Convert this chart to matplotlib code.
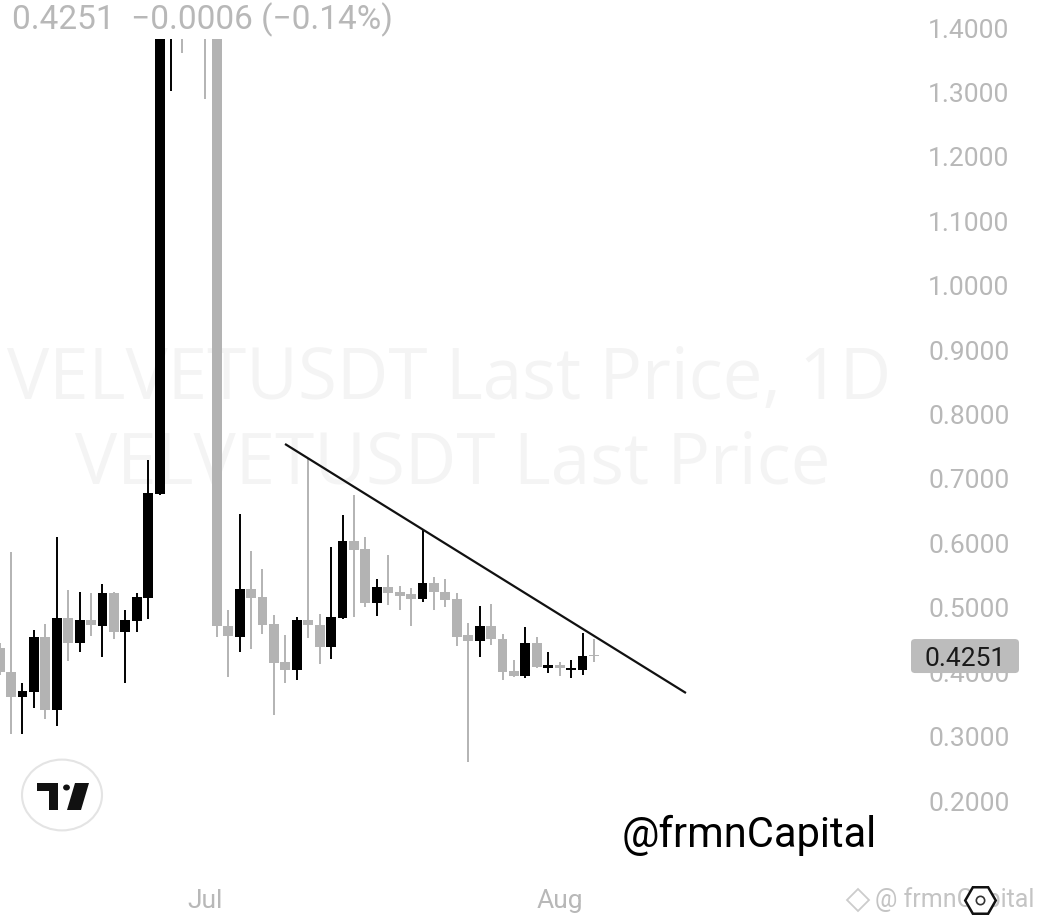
import pandas as pd
import matplotlib
matplotlib.use("Agg")
import matplotlib.pyplot as plt
import matplotlib.dates as mdates
from matplotlib.patches import Rectangle, FancyBboxPatch, Circle, Polygon
from matplotlib.lines import Line2D

plt.rcParams['font.family'] = ['Roboto', 'DejaVu Sans']

W, H = 1044, 924

# daily candles, VELVETUSDT, starting Jun 13
start_date = "2025-06-13"
opens = [0.438, 0.401, 0.362, 0.370, 0.454, 0.341, 0.484, 0.445, 0.481, 0.472,
         0.523, 0.462, 0.480, 0.515, 0.676, 1.750, 2.000, 1.800, 1.600, 1.500,
         0.471, 0.455, 0.529, 0.516, 0.475, 0.416, 0.403, 0.481, 0.474, 0.439,
         0.484, 0.603, 0.591, 0.507, 0.533, 0.524, 0.521, 0.513, 0.539, 0.525,
         0.513, 0.457, 0.449, 0.472, 0.452, 0.402, 0.394, 0.446, 0.407, 0.411,
         0.403, 0.403, 0.4262]
highs = [0.445, 0.587, 0.383, 0.466, 0.475, 0.610, 0.528, 0.525, 0.523, 0.537,
         0.525, 0.496, 0.523, 0.729, 2.300, 2.500, 2.200, 1.900, 1.700, 1.550,
         0.496, 0.646, 0.588, 0.560, 0.489, 0.458, 0.486, 0.732, 0.490, 0.595,
         0.644, 0.675, 0.610, 0.544, 0.582, 0.534, 0.530, 0.621, 0.548, 0.545,
         0.523, 0.476, 0.503, 0.506, 0.459, 0.419, 0.470, 0.455, 0.432, 0.416,
         0.419, 0.461, 0.451]
lows = [0.395, 0.304, 0.304, 0.344, 0.328, 0.317, 0.417, 0.432, 0.456, 0.424,
        0.451, 0.383, 0.462, 0.482, 0.675, 1.303, 1.361, 1.450, 1.290, 0.454,
        0.392, 0.431, 0.436, 0.459, 0.334, 0.384, 0.388, 0.453, 0.413, 0.421,
        0.482, 0.486, 0.501, 0.487, 0.505, 0.496, 0.471, 0.509, 0.497, 0.502,
        0.440, 0.260, 0.424, 0.442, 0.388, 0.393, 0.391, 0.406, 0.399, 0.394,
        0.391, 0.396, 0.416]
closes = [0.400, 0.361, 0.371, 0.455, 0.341, 0.484, 0.445, 0.481, 0.473, 0.523,
          0.462, 0.481, 0.516, 0.678, 2.100, 2.200, 1.800, 1.600, 1.500, 0.471,
          0.456, 0.529, 0.515, 0.474, 0.415, 0.403, 0.481, 0.473, 0.439, 0.486,
          0.603, 0.590, 0.507, 0.533, 0.523, 0.519, 0.513, 0.539, 0.525, 0.512,
          0.455, 0.449, 0.472, 0.452, 0.401, 0.394, 0.446, 0.408, 0.411, 0.406,
          0.406, 0.4256, 0.4251]

# hand drawn resistance line (day offset from start, price)
trend_days = [24.97, 60.05]
trend_prices = [0.7543, 0.3677]

y_ticks = [0.2, 0.3, 0.4, 0.5, 0.6, 0.7, 0.8, 0.9, 1.0, 1.1, 1.2, 1.3, 1.4]
month_ticks = ["2025-07-01", "2025-08-01"]
month_labels = ["Jul", "Aug"]
last_price = 0.4251
header = "0.4251  \u22120.0006 (\u22120.14%)"

UP = "#000000"
DOWN = "#b3b3b3"
LABEL = "#b8b8b8"


def px(x, y):
    return x / W, 1 - y / H


dates = pd.date_range(start_date, periods=len(opens), freq="D")
xs = mdates.date2num(dates)
x0 = mdates.date2num(pd.Timestamp(start_date))

fig = plt.figure(figsize=(W / 100, H / 100), dpi=100)
fig.patch.set_facecolor("white")
ax = fig.add_axes([0, 1 - 875 / H, 910 / W, 875 / H])
ax.set_facecolor("white")
for s in ax.spines.values():
    s.set_visible(False)

# faint symbol watermark
ax.text(0.494, 1 - 380 / 875, "VELVETUSDT Last Price, 1D", transform=ax.transAxes,
        ha="center", va="center", fontsize=51, color="#f4f4f4",
        family=["Open Sans", "DejaVu Sans"], zorder=0)
ax.text(0.497, 1 - 465 / 875, "VELVETUSDT Last Price", transform=ax.transAxes,
        ha="center", va="center", fontsize=51, color="#f4f4f4",
        family=["Open Sans", "DejaVu Sans"], zorder=0)

# candles
cols = [UP if c >= o else DOWN for o, c in zip(opens, closes)]
bottoms = [min(o, c) for o, c in zip(opens, closes)]
heights = [abs(c - o) for o, c in zip(opens, closes)]
ax.vlines(xs, lows, highs, colors=cols, linewidth=1.4, zorder=2)
ax.bar(xs, heights, bottom=bottoms, width=0.86, color=cols, linewidth=0, zorder=3)

# trend line
ax.plot([x0 + d for d in trend_days], trend_prices, color="#111111", linewidth=1.6,
        solid_capstyle="butt", zorder=4)

ax.set_xlim(x0 + 0.035, x0 + 79.65)
ax.set_ylim(0.0852, 1.4435)

ax.yaxis.tick_right()
ax.set_yticks(y_ticks)
ax.set_yticklabels([f"{v:.4f}" for v in y_ticks])
ax.tick_params(axis="y", length=0, pad=13, labelsize=19, labelcolor=LABEL)
ax.set_xticks(mdates.date2num(pd.to_datetime(month_ticks)))
ax.set_xticklabels(month_labels)
ax.tick_params(axis="x", length=0, pad=10, labelsize=19, labelcolor=LABEL)

# last price tag on the scale
fig.canvas.draw()
ymid = ax.transData.transform((x0, last_price))[1] / H
tag = FancyBboxPatch((911 / W, ymid - 17 / H), 108 / W, 34 / H,
                     boxstyle="round,pad=0,rounding_size=0.004",
                     transform=fig.transFigure, facecolor="#bcbcbc",
                     edgecolor="none", zorder=5)
fig.add_artist(tag)
fig.text(965 / W, ymid, f"{last_price:.4f}", ha="center", va="center_baseline",
         fontsize=19, color="#1a1a1a", zorder=6)

# header legend covers the top of the tall candles
fig.add_artist(Rectangle(px(0, 39), 412 / W, 39 / H, transform=fig.transFigure,
                         facecolor="white", edgecolor="none", zorder=5))
fig.text(12 / W, 1 - 29 / H, header, ha="left", va="baseline", fontsize=24,
         color=LABEL, zorder=6)

# TradingView badge
fig.add_artist(Circle(px(62, 795), 40 / W, transform=fig.transFigure,
                      facecolor="white", edgecolor="#e4e4e4", linewidth=1.5, zorder=5))
t_shape = [(36.7, 783), (58.3, 783), (58.3, 810), (48.5, 810), (48.5, 791), (36.7, 791)]
v_shape = [(75, 783), (89, 783), (81, 810), (67, 810)]
for shape in (t_shape, v_shape):
    fig.add_artist(Polygon([px(a, b) for a, b in shape], closed=True,
                           transform=fig.transFigure, facecolor="#111111",
                           edgecolor="none", zorder=6))
fig.add_artist(Circle(px(66.5, 787.5), 3.4 / W, transform=fig.transFigure,
                      facecolor="#111111", edgecolor="none", zorder=6))

# author tags
fig.text(622 / W, 1 - 835 / H, "@frmnCapital", ha="left", va="center",
         fontsize=30, color="black", zorder=6)
fig.add_artist(Line2D([858 / W], [1 - 900 / H], marker="D", markersize=11,
                      markerfacecolor="none", markeredgecolor="#cccccc",
                      markeredgewidth=1.3, transform=fig.transFigure, zorder=6))
fig.text(875 / W, 1 - 900 / H, "@ frmnCapital", ha="left", va="center",
         fontsize=18, color="#c4c4c4", zorder=6)
fig.add_artist(Line2D([980 / W], [1 - 900 / H], marker="H", markersize=22,
                      markerfacecolor="white", markeredgecolor="#111111",
                      markeredgewidth=1.8, transform=fig.transFigure, zorder=7))
fig.add_artist(Line2D([980 / W], [1 - 900 / H], marker="o", markersize=6,
                      markerfacecolor="none", markeredgecolor="#333333",
                      markeredgewidth=1.2, transform=fig.transFigure, zorder=8))

fig.savefig("out.png", dpi=100, facecolor="white")
